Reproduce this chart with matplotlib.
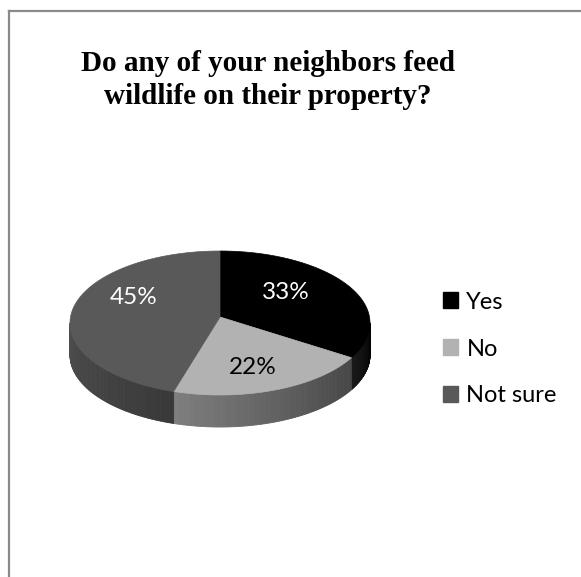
import numpy as np
import matplotlib
matplotlib.use('Agg')
import matplotlib.pyplot as plt
from matplotlib.patches import Polygon, Patch
from matplotlib.collections import PolyCollection
from matplotlib.colors import to_rgb
from matplotlib.lines import Line2D

# survey answers
categories = ['Yes', 'No', 'Not sure']
shares = [33, 22, 45]

top_colors = ['#000000', '#b2b2b2', '#595959']
# side wall gradient (left end, right end)
wall_colors = [('#1a1a1a', '#000000'), ('#7e7e7e', '#454545'), ('#4e4e4e', '#383838')]
label_colors = ['white', 'black', 'white']
label_nudge = [(-12, -3), (0, 10), (2, -13)]

W, H = 581, 577
fig = plt.figure(figsize=(W / 100, H / 100), dpi=100)
ax = fig.add_axes([0, 0, 1, 1])
ax.set_xlim(0, W)
ax.set_ylim(H, 0)
ax.axis('off')

# frame of the chart area
ax.add_line(Line2D([8.5, 8.5], [10.5, H], color='#8a8a8a', lw=1.6))
ax.add_line(Line2D([8.5, W], [10.5, 10.5], color='#8a8a8a', lw=1.6))

fig.text(268 / W, 1 - 80 / H, 'Do any of your neighbors feed\nwildlife on their property?',
         ha='center', va='center', fontsize=21, fontweight='bold',
         family='Liberation Serif', linespacing=1.3)

# tilted pie geometry (pixels)
cx, cy, apex_y = 220, 323, 317
rx, ry, depth = 150, 72, 32


def rim(theta):
    # theta in degrees, clockwise from 12 o'clock
    t = np.radians(theta)
    return cx + rx * np.sin(t), cy - ry * np.cos(t)


fracs = np.array(shares) / np.sum(shares)
edges = np.concatenate([[0], np.cumsum(fracs) * 360])

# side walls, only the front half is visible
for i in range(len(shares)):
    a, b = max(edges[i], 90), min(edges[i + 1], 270)
    if b <= a:
        continue
    ts = np.linspace(a, b, 80)
    c_right, c_left = np.array(to_rgb(wall_colors[i][1])), np.array(to_rgb(wall_colors[i][0]))
    quads, cols = [], []
    for t0, t1 in zip(ts[:-1], ts[1:]):
        x0, y0 = rim(t0)
        x1, y1 = rim(t1)
        quads.append([(x0, y0), (x1, y1), (x1, y1 + depth), (x0, y0 + depth)])
        s = ((t0 + t1) / 2 - a) / (b - a)
        cols.append(c_right * (1 - s) + c_left * s)
    ax.add_collection(PolyCollection(quads, facecolors=cols, edgecolors=cols, lw=0.6))

# top face
for i in range(len(shares)):
    ts = np.linspace(edges[i], edges[i + 1], 120)
    xs, ys = rim(ts)
    pts = [(cx, apex_y)] + list(zip(xs, ys))
    ax.add_patch(Polygon(pts, closed=True, facecolor=top_colors[i], edgecolor=top_colors[i], lw=0.5))

# value labels
for i, v in enumerate(shares):
    mid = np.radians((edges[i] + edges[i + 1]) / 2)
    lx = cx + rx * 0.6 * np.sin(mid) + label_nudge[i][0]
    ly = apex_y - ry * 0.6 * np.cos(mid) + label_nudge[i][1]
    ax.text(lx, ly, f'{v}%', ha='center', va='center', fontsize=17.5,
            family='Lato', color=label_colors[i])

handles = [Patch(facecolor=c, edgecolor=c) for c in top_colors]
fig.legend(handles, categories, loc='center left', bbox_to_anchor=(431 / W, 1 - 349 / H),
           frameon=False, prop={'family': 'Lato', 'size': 17}, handlelength=0.65,
           handleheight=0.65, handletextpad=0.35, labelspacing=1.1, borderpad=0)

fig.savefig('out.png', dpi=100, facecolor='white')
